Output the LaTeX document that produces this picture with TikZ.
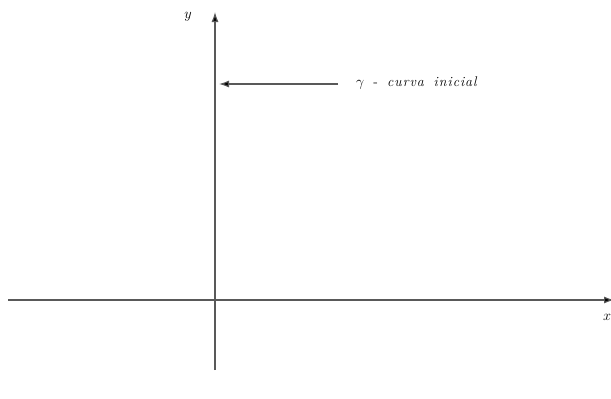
\documentclass[tikz,border=0pt]{standalone}
\usetikzlibrary{arrows.meta}
\newcommand{\ks}{\kern1pt}
\begin{document}
\begin{tikzpicture}[x=1pt,y=-1pt,
  axis/.style={draw=black!65,line width=1.1pt,-{Latex[length=10pt,width=7pt,fill=black]}},
  lbl/.style={inner sep=0pt,font=\fontsize{14}{16}\selectfont}]
\useasboundingbox (0,0) rectangle (611,399);
\coordinate (yb) at (215,370);
\coordinate (yt) at (215,12);
\coordinate (xl) at (8,300);
\coordinate (xr) at (614,300);
\draw[axis] (yb) -- (yt);
\draw[axis] (xl) -- (xr);
\node[lbl] (ylab) at (188,17) {$y$};
\node[lbl,anchor=west] (xlab) at (603,317) {$x$};
\node[lbl,anchor=west,font=\fontsize{14}{16}\selectfont] (gam) at (356,83) {$\gamma$ \ - \ \textit{c\ks u\ks r\ks v\ks a \ i\ks n\ks i\ks c\ks i\ks a\ks l}};
\coordinate (tip) at (219,84);
\draw[axis] (338,84) -- (tip);
\end{tikzpicture}
\end{document}
